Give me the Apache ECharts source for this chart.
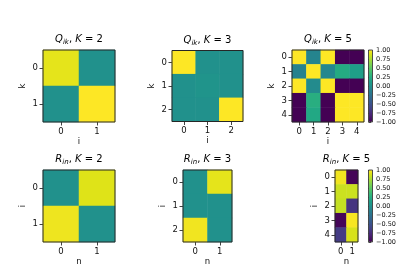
<!DOCTYPE html>
<html><head><meta charset="utf-8">
<script src="https://cdn.jsdelivr.net/npm/echarts@6/dist/echarts.min.js"></script>
<style>html,body{margin:0;padding:0;background:#fff}#c{width:415px;height:277px}</style>
</head><body><div id="c"></div>
<script>
// ---- data (rows = y category, cols = x category) ----
const idx2 = ['0','1'];
const idx3 = ['0','1','2'];
const idx5 = ['0','1','2','3','4'];
const Q_K2 = [[0.92, 0.0],[0.0, 1.0]];
const Q_K3 = [[1.0, 0.0, 0.0],[0.0, 0.03, 0.0],[0.0, 0.0, 1.0]];
const Q_K5 = [
  [1.0, -0.1, 1.0, -1.0, -1.0],
  [-0.12, 1.0, -0.08, 0.22, 0.12],
  [1.0, -0.05, 1.0, -1.0, -1.0],
  [-1.0, 0.25, -1.0, 1.0, 1.0],
  [-1.0, 0.2, -1.0, 1.0, 1.0]
];
const R_K2 = [[0.0, 0.9],[0.95, 0.0]];
const R_K3 = [[0.0, 0.92],[0.0, 0.0],[0.96, 0.0]];
const R_K5 = [[0.96, -0.98],[0.84, 0.84],[0.82, -0.7],[-0.97, 0.98],[-0.65, 0.88]];
const cbTicks = [-1, -0.75, -0.5, -0.25, 0, 0.25, 0.5, 0.75, 1];

const panels = [
  {m:Q_K2, x:idx2, y:idx2, xn:'i', yn:'k', t:['Q','ik','2'], box:[43,50,72,72]},
  {m:Q_K3, x:idx3, y:idx3, xn:'i', yn:'k', t:['Q','ik','3'], box:[172,50.5,71,71]},
  {m:Q_K5, x:idx5, y:idx5, xn:'i', yn:'k', t:['Q','ik','5'], box:[292,50,72,72]},
  {m:R_K2, x:idx2, y:idx2, xn:'n', yn:'i', t:['R','in','2'], box:[43,170,72,72]},
  {m:R_K3, x:idx2, y:idx3, xn:'n', yn:'i', t:['R','in','3'], box:[183,170,49,72]},
  {m:R_K5, x:idx2, y:idx5, xn:'n', yn:'i', t:['R','in','5'], box:[335,170,23,72]}
];
const cbBoxes = [[368.5,50,4,72],[368.5,170,4,72]];

const viridis = ['#440154','#471365','#482475','#463480','#414487','#3b528b','#355f8d','#2f6c8e','#2a788e','#25848e','#21918c','#1e9c89','#22a884','#2fb47c','#44bf70','#5ec962','#7ad151','#9bd93c','#bddf26','#dfe318','#fde725'];
const FONT = 'DejaVu Sans';

const grid=[], xAxis=[], yAxis=[], series=[], title=[];
panels.forEach((p,i)=>{
  const [l,t,w,h] = p.box;
  grid.push({left:l, top:t, width:w, height:h, show:true, borderColor:'#262626', borderWidth:1, backgroundColor:'transparent', z:5});
  xAxis.push({gridIndex:i, type:'category', data:p.x, name:p.xn, nameLocation:'middle', nameGap:15,
    nameTextStyle:{fontFamily:FONT, fontSize:8.5, color:'#111'},
    axisLine:{show:false}, axisTick:{show:true, alignWithLabel:true, length:3.5, lineStyle:{color:'#111', width:0.8}},
    axisLabel:{fontFamily:FONT, fontSize:8.5, color:'#111', margin:5}, splitLine:{show:false}});
  yAxis.push({gridIndex:i, type:'category', data:p.y, inverse:true, name:p.yn, nameLocation:'middle', nameGap:16, nameRotate:90,
    nameTextStyle:{fontFamily:FONT, fontSize:8.5, color:'#111'},
    axisLine:{show:false}, axisTick:{show:true, alignWithLabel:true, length:3.5, lineStyle:{color:'#111', width:0.8}},
    axisLabel:{fontFamily:FONT, fontSize:8.5, color:'#111', margin:5}, splitLine:{show:false}});
  const data=[];
  p.m.forEach((row,r)=>row.forEach((v,c)=>data.push([c,r,v])));
  series.push({type:'heatmap', xAxisIndex:i, yAxisIndex:i, data:data, itemStyle:{borderWidth:0}, emphasis:{disabled:true}});
  title.push({left:l+w/2, top:t-17, textAlign:'center', padding:0,
    text:'{i|'+p.t[0]+'}{s|'+p.t[1]+'}{n|, }{i|K}{n| = '+p.t[2]+'}',
    textStyle:{fontWeight:'normal', rich:{
      i:{fontFamily:FONT, fontStyle:'italic', fontWeight:'normal', fontSize:10, color:'#000', lineHeight:13},
      n:{fontFamily:FONT, fontWeight:'normal', fontSize:10, color:'#000', lineHeight:13},
      s:{fontFamily:FONT, fontStyle:'italic', fontWeight:'normal', fontSize:7, color:'#000', lineHeight:7, verticalAlign:'bottom'}
    }}});
});

const visualMap=[];
cbBoxes.forEach((b,k)=>{
  const gi = grid.length;
  grid.push({left:b[0], top:b[1], width:b[2], height:b[3], show:true, borderColor:'#262626', borderWidth:0.8, backgroundColor:'transparent', z:6});
  xAxis.push({gridIndex:gi, type:'value', show:false});
  yAxis.push({gridIndex:gi, type:'value', min:cbTicks[0], max:cbTicks[cbTicks.length-1], interval:0.25, position:'right',
    axisLine:{show:false}, splitLine:{show:false},
    axisTick:{show:true, length:2.5, lineStyle:{color:'#111', width:0.7}},
    axisLabel:{fontFamily:FONT, fontSize:6.5, color:'#111', margin:3.5,
      formatter:v=>(v<0?'\u2212':'')+Math.abs(v).toFixed(2)}});
  visualMap.push({type:'continuous', min:-1, max:1, seriesIndex:k===0?[0,1,2]:[3,4,5],
    inRange:{color:viridis}, calculable:false, hoverLink:false, itemWidth:b[2], itemHeight:b[3],
    left:b[0], top:b[1], padding:0, text:null, showLabel:false, textStyle:{fontSize:0}});
});

const chart = echarts.init(document.getElementById('c'), null, {renderer:'canvas'});
chart.setOption({animation:false, backgroundColor:'#fff', title, grid, xAxis, yAxis, visualMap, series});
</script>
</body></html>
